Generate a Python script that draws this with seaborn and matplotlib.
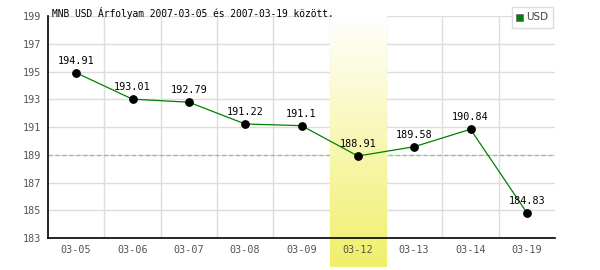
import numpy as np
import pandas as pd
import matplotlib
matplotlib.use("Agg")
import matplotlib.pyplot as plt
import seaborn as sns
from matplotlib.colors import LinearSegmentedColormap
from matplotlib.patches import Rectangle

dates = ["03-05", "03-06", "03-07", "03-08", "03-09", "03-12", "03-13", "03-14", "03-19"]
values = [194.91, 193.01, 192.79, 191.22, 191.1, 188.91, 189.58, 190.84, 184.83]
avg_line = 189.0
highlight = "03-12"
yticks = [183, 185, 187, 189, 191, 193, 195, 197, 199]
title = "MNB USD Árfolyam 2007-03-05 és 2007-03-19 között."
series_name = "USD"

sns.set_theme(style="white")
plt.rcParams['font.family'] = ['DejaVu Sans Mono', 'DejaVu Sans']

df = pd.DataFrame({"date": dates, "value": values})
df["x"] = np.arange(len(dates))

fig = plt.figure(figsize=(6, 2.7), dpi=100)
ax = fig.add_axes([0.08, 0.1185, 0.845, 0.822])
ax.set_xlim(-0.5, len(dates) - 0.5)
ax.set_ylim(183, 199)
ax.set_axisbelow(False)

# grid
for y in yticks:
    ax.axhline(y, color="#dddddd", lw=1, zorder=0.3)
for i in range(1, len(dates)):
    ax.axvline(i - 0.5, color="#dddddd", lw=1, zorder=0.3)

ax.axhline(avg_line, color="#88cc88", lw=1, ls=(0, (3, 2)), zorder=0.5)

# highlight gradient
hi = dates.index(highlight)
cmap = LinearSegmentedColormap.from_list("g", ["#ffffff", "#f0ef6a"])
grad = np.linspace(0, 1, 256).reshape(-1, 1)
ax.imshow(grad, cmap=cmap, aspect="auto", origin="upper",
          extent=[hi - 0.5, hi + 0.5, 180.9, 199], clip_on=False, zorder=1)

sns.lineplot(data=df, x="x", y="value", ax=ax, color="#008000", lw=0.9,
             zorder=2, legend=False)
ax.scatter(df["x"], df["value"], s=28, color="black", zorder=3)

for xi, v in zip(df["x"], df["value"]):
    ax.annotate(f"{v:g}", (xi, v), xytext=(0, 5), textcoords="offset points",
                ha="center", va="bottom", fontsize=7.3, color="black", zorder=4)

ax.set_xticks(df["x"])
ax.set_xticklabels(dates)
ax.set_yticks(yticks)
ax.tick_params(axis="both", labelsize=7.3, colors="#555555", length=0, pad=5)
ax.set_xlabel("")
ax.set_ylabel("")
for s in ["top", "right"]:
    ax.spines[s].set_visible(False)
for s in ["left", "bottom"]:
    ax.spines[s].set_color("black")
    ax.spines[s].set_linewidth(1.2)

fig.text(52 / 600, 1 - 13 / 270, title, fontsize=6.9, color="black",
         ha="left", va="center")

# legend
leg = Rectangle((512 / 600, 1 - 28 / 270), 41 / 600, 21 / 270,
                transform=fig.transFigure, facecolor="white",
                edgecolor="#dddddd", lw=1, zorder=5)
fig.patches.append(leg)
sq = Rectangle((516 / 600, 1 - 21 / 270), 7 / 600, 7 / 270,
               transform=fig.transFigure, facecolor="#008000",
               edgecolor="#666666", lw=0.5, zorder=6)
fig.patches.append(sq)
fig.text(526 / 600, 1 - 17.5 / 270, series_name, fontsize=7.5, color="#444444",
         ha="left", va="center", family="DejaVu Sans", zorder=7)

fig.savefig("out.png", dpi=100)
